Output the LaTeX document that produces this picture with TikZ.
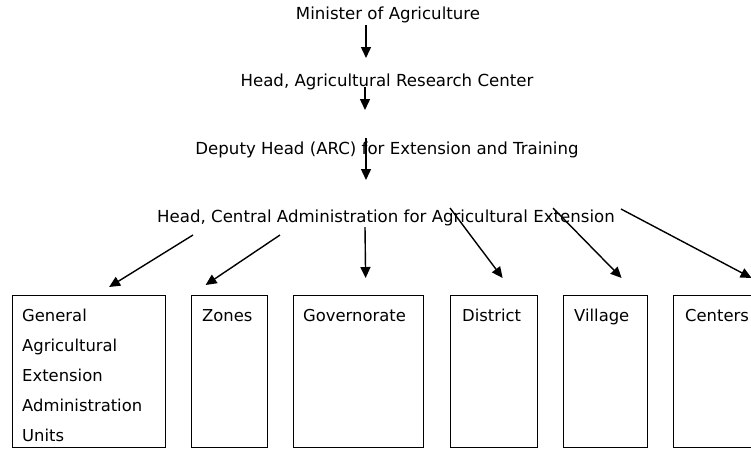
\documentclass[tikz,border=0pt]{standalone}
\usepackage{fontspec}
\setmainfont{DejaVu Sans}
\usetikzlibrary{arrows.meta,positioning}

\tikzset{
    post/.style={inner sep=0pt, font=\fontsize{16.6}{20}\selectfont},
    unit/.style={draw, line width=1.2pt, anchor=north west, inner sep=0pt,
                 minimum width=#1, minimum height=152pt},
    unittext/.style={anchor=north west, inner sep=0pt, align=left,
                     font=\fontsize{16.4}{30}\selectfont},
    arr/.style={line width=1.4pt, -{Triangle[length=11pt,width=10pt]}}
}

\begin{document}
\begin{tikzpicture}[x=1pt, y=-1pt]
    \useasboundingbox (0,0) rectangle (751,448);
    \clip (0,0) rectangle (751,448);

    % chain of command
    \node (min) [post] at (388,15)  {Minister of Agriculture};
    \node (arc) [post] at (387,82)  {Head, Agricultural Research Center};
    \node (dep) [post] at (387,150) {Deputy Head (ARC) for Extension and Training};
    \node (cae) [post] at (386,218) {Head, Central Administration for Agricultural Extension};

    % units
    \node (gen) [unit=153pt] at (12,295)  {};
    \node (zon) [unit=76pt]  at (191,295) {};
    \node (gov) [unit=130pt] at (293,295) {};
    \node (dis) [unit=87pt]  at (450,295) {};
    \node (vil) [unit=84pt]  at (563,295) {};
    \node (cen) [unit=100pt] at (673,295) {};

    \node (gentext) [unittext] at ([xshift=10pt,yshift=-14pt]gen.north west)
        {General\\Agricultural\\Extension\\Administration\\Units};
    \node (zontext) [unittext] at ([xshift=11pt,yshift=-14pt]zon.north west) {Zones};
    \node (govtext) [unittext] at ([xshift=10pt,yshift=-14pt]gov.north west) {Governorate};
    \node (distext) [unittext] at ([xshift=12pt,yshift=-14pt]dis.north west) {District};
    \node (viltext) [unittext] at ([xshift=11pt,yshift=-14pt]vil.north west) {Village};
    \node (centext) [unittext] at ([xshift=12pt,yshift=-14pt]cen.north west) {Centers};

    % arrows
    \coordinate (k1) at (366,25);
    \coordinate (k2) at (365,87);
    \coordinate (k3) at (366,138);
    \draw[arr] (k1) -- +(0,33);
    \draw[arr] (k2) -- +(0,23);
    \draw[arr] (k3) -- +(0,42);

    \coordinate (s1) at (193,235);
    \coordinate (s2) at (280,235);
    \coordinate (s3) at (365,227);
    \coordinate (s4) at (450,208);
    \coordinate (s5) at (553,208);
    \coordinate (s6) at (621,209);
    \draw[arr] (s1) -- ([xshift=20pt,yshift=8pt]gen.north);
    \draw[arr] (s2) -- ([xshift=-24pt,yshift=10pt]zon.north);
    \draw[arr] (s3) -- ([xshift=7pt,yshift=17pt]gov.north);
    \draw[arr] (s4) -- ([xshift=8.5pt,yshift=17pt]dis.north);
    \draw[arr] (s5) -- ([xshift=16pt,yshift=17pt]vil.north);
    \draw[arr] (s6) -- ([xshift=28pt,yshift=17pt]cen.north);
\end{tikzpicture}
\end{document}
